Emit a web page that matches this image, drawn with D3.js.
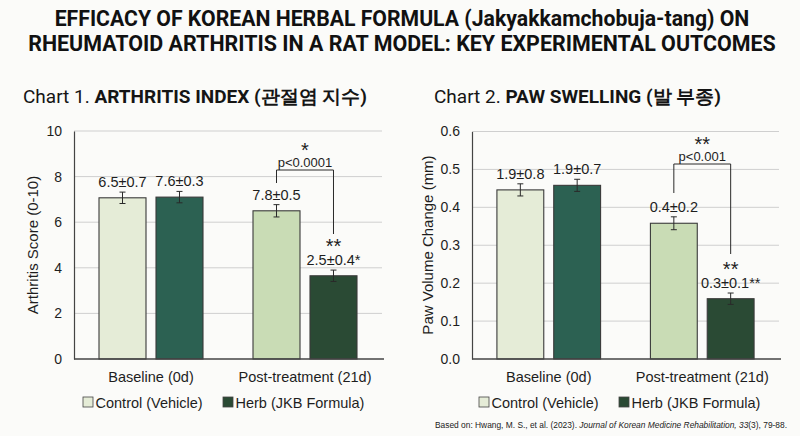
<!DOCTYPE html>
<html><head><meta charset="utf-8">
<script src="https://cdn.jsdelivr.net/npm/d3@7/dist/d3.min.js"></script>
<style>
html,body{margin:0;padding:0;background:#fbfbf9;}
svg{display:block;}
text{font-family:"Liberation Sans",Arial,sans-serif;fill:#1e1e1e;}
</style></head>
<body><svg id="c" width="800" height="436"></svg>
<script>
// ---------- DATA ----------
const groups = ["Baseline (0d)", "Post-treatment (21d)"];
const seriesNames = ["Control (Vehicle)", "Herb (JKB Formula)"];

// Chart 1: Arthritis index
const arthritisControl = [7.07, 6.5];
const arthritisHerb    = [7.1, 3.65];
const arthritisControlErr = [0.25, 0.27];
const arthritisHerbErr    = [0.25, 0.25];
const arthritisControlLabels = ["6.5±0.7", "7.8±0.5"];
const arthritisHerbLabels    = ["7.6±0.3", "2.5±0.4*"];
const arthritisTicks = [0, 2, 4, 6, 8, 10];

// Chart 2: Paw swelling
const pawControl = [0.446, 0.358];
const pawHerb    = [0.458, 0.159];
const pawControlErr = [0.016, 0.017];
const pawHerbErr    = [0.016, 0.015];
const pawControlLabels = ["1.9±0.8", "0.4±0.2"];
const pawHerbLabels    = ["1.9±0.7", "0.3±0.1**"];
const pawTicks = [0.0, 0.1, 0.2, 0.3, 0.4, 0.5, 0.6];

const titleLines = [
  "EFFICACY OF KOREAN HERBAL FORMULA (Jakyakkamchobuja-tang) ON",
  "RHEUMATOID ARTHRITIS IN A RAT MODEL: KEY EXPERIMENTAL OUTCOMES"
];

// ---------- STYLE ----------
const fills = {
  "Baseline (0d)|Control (Vehicle)": "#e5ecd7",
  "Baseline (0d)|Herb (JKB Formula)": "#2c6152",
  "Post-treatment (21d)|Control (Vehicle)": "#c9dcb5",
  "Post-treatment (21d)|Herb (JKB Formula)": "#2a4a34"
};
const legendFills = ["#e5ecd7", "#2a4a34"];

const svg = d3.select("#c");

// Main title: Roboto bold, horizontally condensed to the reference widths
const titleSpec = [{y:26, w:695}, {y:50.7, w:748}];
titleLines.forEach((line,i)=>{
  const t = svg.append("text").attr("text-anchor","middle")
    .style("font-family","Roboto,sans-serif").style("font-weight","bold")
    .style("font-size","22.5px").style("fill","#111").text(line);
  const w = t.node().getComputedTextLength();
  const sx = titleSpec[i].w / w;
  t.attr("transform",`translate(402,${titleSpec[i].y}) scale(${sx},1)`);
});

function drawChart(cfg){
  const g = svg.append("g");
  const x0 = d3.scaleBand().domain(groups).range([cfg.left, cfg.right]).padding(0);
  const x1 = d3.scaleBand().domain(seriesNames).range([0, x0.bandwidth()])
    .paddingInner(0.1754).paddingOuter(0.4386);
  const y = d3.scaleLinear().domain(cfg.domain).range([359, cfg.top]);

  // chart title
  const t = g.append("text").attr("x", cfg.titleX).attr("y", 103)
    .style("font-family","Roboto,sans-serif").style("font-size","19px").style("fill","#151515");
  t.append("tspan").text(cfg.titleA);
  t.append("tspan").style("font-weight","bold").text(cfg.titleB);

  // grid
  g.append("g").selectAll("line").data(cfg.ticks.filter(d=>d>0)).join("line")
    .attr("x1", cfg.left).attr("x2", cfg.right)
    .attr("y1", d=>y(d)).attr("y2", d=>y(d))
    .attr("stroke","#cfcfcf").attr("stroke-width",1);

  // y axis
  const ya = d3.axisLeft(y).tickValues(cfg.ticks).tickSize(0).tickPadding(12).tickFormat(cfg.fmt);
  const yg = g.append("g").attr("transform",`translate(${cfg.left},0)`).call(ya);
  yg.select(".domain").attr("stroke","#444").attr("stroke-width",1.2);
  yg.selectAll("text").style("font-size","14px").style("font-family",'"Liberation Sans",Arial,sans-serif').attr("fill","#1e1e1e");

  // axis title
  g.append("text").attr("transform",`translate(${cfg.yTitleX},245) rotate(-90)`)
    .attr("text-anchor","middle").style("font-size","15px").text(cfg.yTitle);

  // bars
  const rows = [];
  groups.forEach((grp,i)=>{
    rows.push({grp, s:seriesNames[0], v:cfg.control[i], e:cfg.controlErr[i], lab:cfg.controlLabels[i]});
    rows.push({grp, s:seriesNames[1], v:cfg.herb[i], e:cfg.herbErr[i], lab:cfg.herbLabels[i]});
  });
  const cx = d => x0(d.grp) + x1(d.s) + x1.bandwidth()/2;
  g.append("g").selectAll("rect").data(rows).join("rect")
    .attr("x", d=>x0(d.grp)+x1(d.s)).attr("width", x1.bandwidth())
    .attr("y", d=>y(d.v)).attr("height", d=>y(0)-y(d.v))
    .attr("fill", d=>fills[d.grp+"|"+d.s]).attr("stroke","#3a3a3a").attr("stroke-width",1.1);

  // x axis line
  g.append("line").attr("x1",cfg.left).attr("x2",cfg.right+2).attr("y1",y(0)).attr("y2",y(0))
    .attr("stroke","#444").attr("stroke-width",1.6);

  // error bars
  const eb = g.append("g").attr("stroke","#2a2a2a").attr("stroke-width",1);
  eb.selectAll(".v").data(rows).join("line").attr("x1",cx).attr("x2",cx)
    .attr("y1",d=>y(d.v+d.e)).attr("y2",d=>y(d.v-d.e));
  eb.selectAll(".t").data(rows).join("line").attr("x1",d=>cx(d)-3).attr("x2",d=>cx(d)+3)
    .attr("y1",d=>y(d.v+d.e)).attr("y2",d=>y(d.v+d.e));
  eb.selectAll(".b").data(rows).join("line").attr("x1",d=>cx(d)-3).attr("x2",d=>cx(d)+3)
    .attr("y1",d=>y(d.v-d.e)).attr("y2",d=>y(d.v-d.e));

  // value labels
  g.append("g").selectAll("text").data(rows).join("text")
    .attr("x",cx).attr("y",d=>y(d.v+d.e)-5)
    .attr("text-anchor","middle").style("font-size","14.5px").text(d=>d.lab);

  // ** above herb post-treatment label
  const hp = rows[3];
  g.append("text").attr("x",cx(hp)).attr("y",y(hp.v+hp.e)-5-12.5)
    .style("font-size","20px").attr("text-anchor","middle").text("**");

  // bracket
  const cp = rows[2];
  const bx1 = cx(cp), bx2 = cx(hp);
  g.append("path").attr("fill","none").attr("stroke","#2a2a2a").attr("stroke-width",1)
    .attr("d",`M${bx1},${cfg.legL}V${cfg.bracketY}H${bx2}V${cfg.legR}`);
  g.append("text").attr("x",(bx1+bx2)/2).attr("y",cfg.bracketY-3)
    .attr("text-anchor","middle").style("font-size","13px").text(cfg.pText);
  g.append("text").attr("x",(bx1+bx2)/2).attr("y",cfg.bracketY-13.5)
    .attr("text-anchor","middle").style("font-size","20px").text(cfg.sig);

  // category labels
  g.append("g").selectAll("text").data(groups).join("text")
    .attr("x",d=>x0(d)+x0.bandwidth()/2).attr("y",382)
    .attr("text-anchor","middle").style("font-size","14.5px").text(d=>d);

  // legend
  const lg = g.append("g");
  seriesNames.forEach((s,i)=>{
    const lx = cfg.legendX[i];
    lg.append("rect").attr("x",lx).attr("y",397).attr("width",10).attr("height",10)
      .attr("fill",legendFills[i]).attr("stroke","#444").attr("stroke-width",0.8);
    lg.append("text").attr("x",lx+12.5).attr("y",407.5).style("font-size","14.5px").text(s);
  });
}

drawChart({
  left:74, right:382, top:131, domain:[0,10], ticks:arthritisTicks, fmt:d3.format("d"),
  titleX:23, titleA:"Chart 1. ", titleB:"ARTHRITIS INDEX (관절염 지수)",
  yTitle:"Arthritis Score (0-10)", yTitleX:38,
  control:arthritisControl, herb:arthritisHerb, controlErr:arthritisControlErr, herbErr:arthritisHerbErr,
  controlLabels:arthritisControlLabels, herbLabels:arthritisHerbLabels,
  bracketY:170, legL:183, legR:234, pText:"p<0.0001", sig:"*",
  legendX:[83,223]
});
drawChart({
  left:472, right:779, top:131.5, domain:[0,0.6], ticks:pawTicks, fmt:d3.format(".1f"),
  titleX:434, titleA:"Chart 2. ", titleB:"PAW SWELLING (발 부종)",
  yTitle:"Paw Volume Change (mm)", yTitleX:433,
  control:pawControl, herb:pawHerb, controlErr:pawControlErr, herbErr:pawHerbErr,
  controlLabels:pawControlLabels, herbLabels:pawHerbLabels,
  bracketY:164, legL:193, legR:254, pText:"p<0.001", sig:"**",
  legendX:[479,619]
});

// footnote
const fn = svg.append("text").attr("x",435).attr("y",428).style("font-size","8.4px").style("fill","#222");
fn.append("tspan").text("Based on: Hwang, M. S., et al. (2023). ");
fn.append("tspan").style("font-style","italic").text("Journal of Korean Medicine Rehabilitation, 33");
fn.append("tspan").text("(3), 79-88.");
</script></body></html>
